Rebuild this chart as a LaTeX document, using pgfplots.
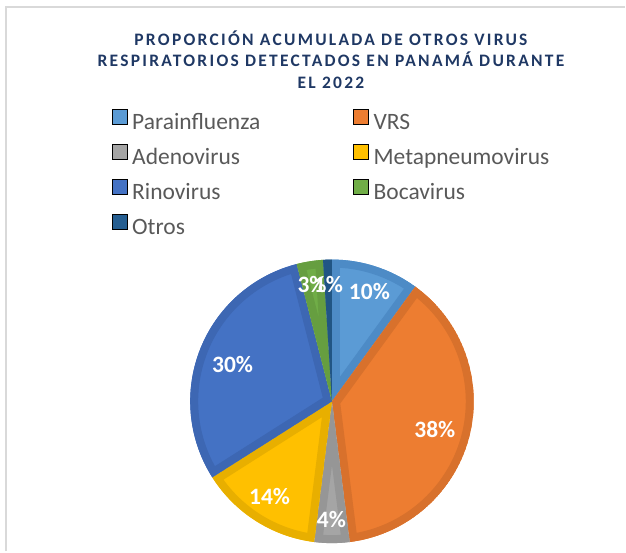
\documentclass[border=0pt]{standalone}
\usepackage{fontspec}
\setmainfont{Carlito}
\usepackage{pgfplots}
\usepackage{pgfplotstable}
\pgfplotsset{compat=1.18}
\definecolor{parac}{HTML}{5B9BD5}\definecolor{parab}{HTML}{4D8BC6}
\definecolor{vrsc}{HTML}{ED7D31}\definecolor{vrsb}{HTML}{D8712C}
\definecolor{adenc}{HTML}{A5A5A5}\definecolor{adenb}{HTML}{969696}
\definecolor{metac}{HTML}{FFC000}\definecolor{metab}{HTML}{E8AF00}
\definecolor{rinoc}{HTML}{4472C4}\definecolor{rinob}{HTML}{3D67B3}
\definecolor{bocac}{HTML}{70AD47}\definecolor{bocab}{HTML}{669E40}
\definecolor{otrosc}{HTML}{255E91}\definecolor{otrosb}{HTML}{215584}
\definecolor{titleblue}{HTML}{1F3864}
\definecolor{legendgray}{HTML}{595959}
\definecolor{framegray}{HTML}{D9D9D9}
\pgfplotstableread{
name value fill border
Parainfluenza 10 parac parab
VRS 38 vrsc vrsb
Adenovirus 4 adenc adenb
Metapneumovirus 14 metac metab
Rinovirus 30 rinoc rinob
Bocavirus 3 bocac bocab
Otros 1 otrosc otrosb
}\piedata
\begin{document}
\begin{tikzpicture}
\begin{axis}[
  x=1pt, y=1pt, xmin=0, xmax=626, ymin=0, ymax=552,
  hide axis, clip=false, scale only axis,
  legend columns=2,
  legend cell align=left,
  legend image code/.code={\fill[#1] (0pt,0pt) rectangle (15pt,15pt);},
  legend style={at={(axis cs:112,443)}, anchor=north west, draw=none, fill=none,
    inner sep=0pt, outer sep=0pt,
    font=\fontsize{23.5}{28}\selectfont, text=legendgray,
    nodes={inner sep=0pt, text height=16pt, text depth=5pt},
    row sep=9.5pt,
    /tikz/every odd column/.append style={column sep=5pt},
    /tikz/every even column/.append style={column sep=93pt}},
]
\path (axis cs:0,0) rectangle (axis cs:626,552);
\draw[framegray, line width=2pt] (axis cs:6,0) -- (axis cs:6,545) -- (axis cs:626,545);
\addlegendimage{fill=parac}\addlegendentry{Parainfluenza}
\addlegendimage{fill=vrsc}\addlegendentry{VRS}
\addlegendimage{fill=adenc}\addlegendentry{Adenovirus}
\addlegendimage{fill=metac}\addlegendentry{Metapneumovirus}
\addlegendimage{fill=rinoc}\addlegendentry{Rinovirus}
\addlegendimage{fill=bocac}\addlegendentry{Bocavirus}
\addlegendimage{fill=otrosc}\addlegendentry{Otros}
\pgfplotsextra{%
  \gdef\cum{0}%
  \foreach \i in {0,...,6}{%
    \pgfplotstablegetelem{\i}{value}\of\piedata \let\v\pgfplotsretval
    \pgfplotstablegetelem{\i}{fill}\of\piedata \let\fc\pgfplotsretval
    \pgfplotstablegetelem{\i}{border}\of\piedata \let\bc\pgfplotsretval
    \pgfmathsetmacro\aA{90-3.6*\cum}%
    \pgfmathsetmacro\aB{90-3.6*(\cum+\v)}%
    \pgfmathsetmacro\newcum{\cum+\v}\xdef\cum{\newcum}%
    \begin{scope}
      \clip (axis cs:332.5,150) -- ++(\aA:142pt) arc[start angle=\aA, end angle=\aB, radius=142pt] -- cycle;
      \fill[\fc] (axis cs:332.5,150) -- ++(\aA:142pt) arc[start angle=\aA, end angle=\aB, radius=142pt] -- cycle;
      \draw[\bc, line width=16pt, line join=miter] (axis cs:332.5,150) -- ++(\aA:142pt) arc[start angle=\aA, end angle=\aB, radius=142pt] -- cycle;
    \end{scope}
  }%
}
\begin{scope}[every node/.style={font=\fontsize{23.5}{28}\selectfont\bfseries, text=white, inner sep=0pt}]
\node at (axis cs:370,260) {10\%};
\node at (axis cs:435.5,122) {38\%};
\node at (axis cs:332,31.5) {4\%};
\node at (axis cs:270,55) {14\%};
\node at (axis cs:233,187) {30\%};
\node at (axis cs:312.5,267) {3\%};
\node at (axis cs:329,267) {1\%};
\end{scope}
\begin{scope}[every node/.style={font=\fontsize{17.5}{21}\selectfont\bfseries\addfontfeatures{LetterSpace=13}, text=titleblue, anchor=base, inner sep=0pt}]
\node at (axis cs:331.5,506.3) {PROPORCIÓN ACUMULADA DE OTROS VIRUS};
\node at (axis cs:331.5,485) {RESPIRATORIOS DETECTADOS EN PANAMÁ DURANTE};
\node at (axis cs:331.5,463.7) {EL 2022};
\end{scope}
\end{axis}
\end{tikzpicture}
\end{document}
